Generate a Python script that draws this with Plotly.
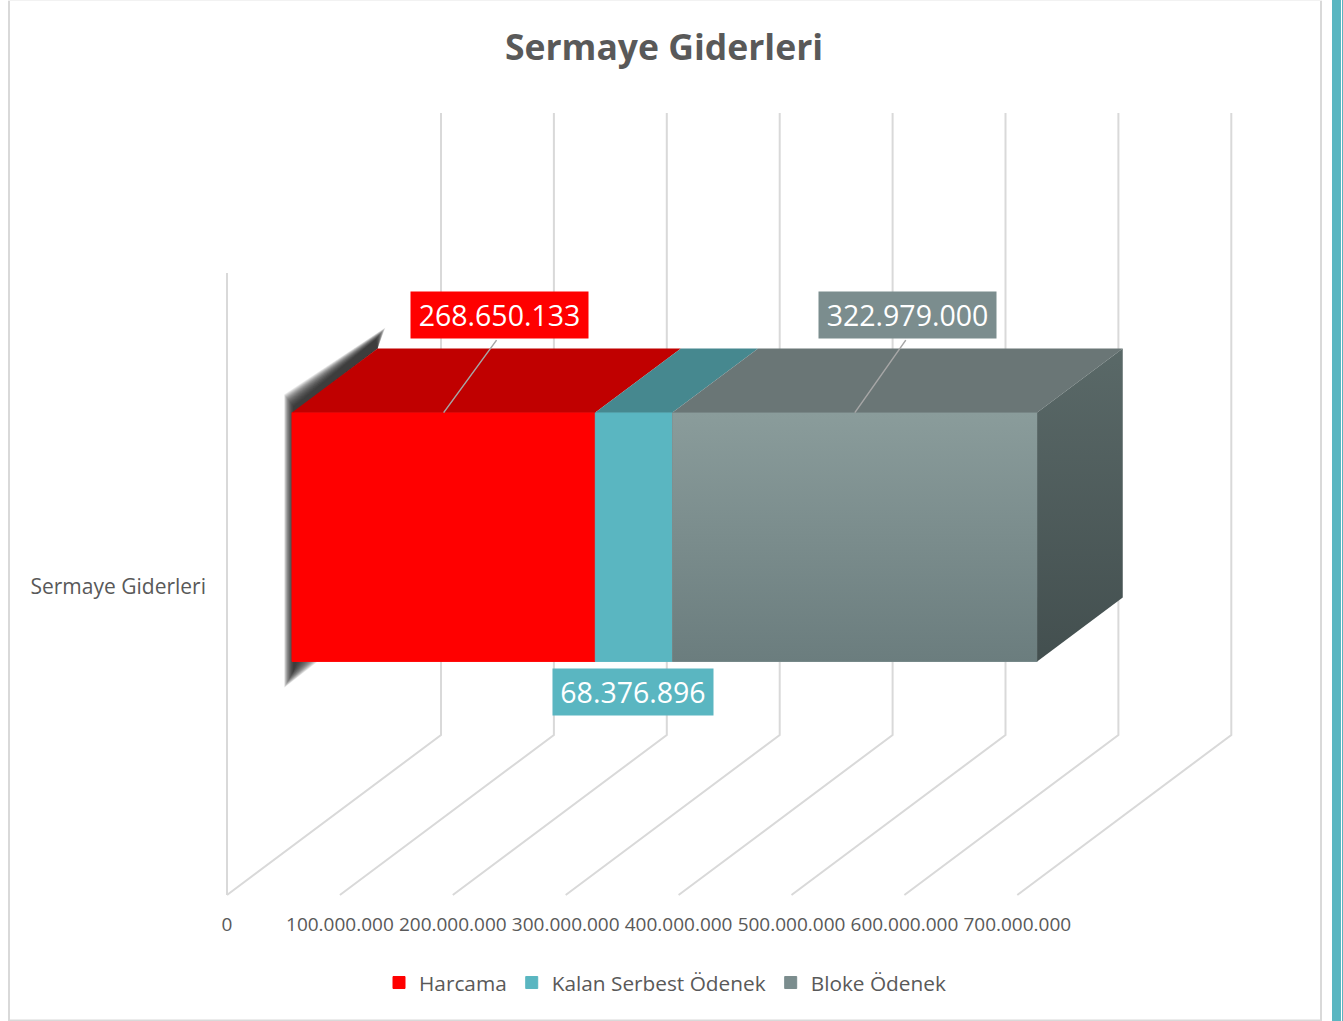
import plotly.graph_objects as go

title = 'Sermaye Giderleri'
category = 'Sermaye Giderleri'
series_names = ['Harcama', 'Kalan Serbest Ödenek', 'Bloke Ödenek']
series_values = [268650133, 68376896, 322979000]
value_labels = ['268.650.133', '68.376.896', '322.979.000']
tick_values = [0, 100000000, 200000000, 300000000, 400000000, 500000000, 600000000, 700000000]
tick_labels = ['0', '100.000.000', '200.000.000', '300.000.000', '400.000.000', '500.000.000', '600.000.000', '700.000.000']

front_colors = ['#ff0000', '#5ab6c1', '#7b8d8e']
top_colors = ['#c00000', '#46888f', '#6a7676']

W = 1343
H = 1021
FONT = 'Open Sans'
TEXT = '#595959'
GRID = '#d9d9d9'

# oblique projection of the excel 3d chart: px per value, px per unit of height, px of full depth
PX_X = 1.129e-6
PX_Y = 622.0
ORIGIN_X = 227.0
ORIGIN_Y = 895.0
DEPTH_PX_X = 214.0
DEPTH_PX_Y = 160.0
BAR_NEAR = 0.3
BAR_FAR = 0.7
BAR_LOW = 0.3
BAR_HIGH = 0.7
# the block sits a hair right of and below the projected position
BAR_NUDGE_X = 0.8 / PX_X
BAR_NUDGE_Y = -1.0 / PX_Y


def px(v, t=0.0):
    return v + t * DEPTH_PX_X / PX_X


def py(z, t=0.0):
    return z + t * DEPTH_PX_Y / PX_Y


def bx(v, t):
    return px(v, t) + BAR_NUDGE_X


def by(z, t):
    return py(z, t) + BAR_NUDGE_Y


def quad(v0, v1, t0, t1, z0, z1):
    # closed outline, either a top face (z0==z1) or a side face (v0==v1)
    if z0 == z1:
        pts = [(v0, t0, z0), (v1, t0, z0), (v1, t1, z0), (v0, t1, z0), (v0, t0, z0)]
    else:
        pts = [(v0, t0, z0), (v0, t1, z0), (v0, t1, z1), (v0, t0, z1), (v0, t0, z0)]
    return [bx(p[0], p[1]) for p in pts], [by(p[2], p[1]) for p in pts]


starts = [0, series_values[0], series_values[0] + series_values[1]]
ends = [s + v for s, v in zip(starts, series_values)]
front_low = by(BAR_LOW, BAR_NEAR)
front_high = by(BAR_HIGH, BAR_NEAR)
front_mid = (front_low + front_high) / 2

fig = go.Figure()

# front faces
for i in range(3):
    fig.add_trace(go.Bar(
        x=[series_values[i]], y=[front_mid], base=[bx(starts[i], BAR_NEAR)],
        width=[front_high - front_low], orientation='h', name=series_names[i],
        marker=dict(color=front_colors[i], line=dict(width=1, color=front_colors[i])),
        hoverinfo='skip',
    ))

# gradient on the grey front face
xs = [bx(starts[2], BAR_NEAR), bx(ends[2], BAR_NEAR), bx(ends[2], BAR_NEAR), bx(starts[2], BAR_NEAR), bx(starts[2], BAR_NEAR)]
ys = [front_low, front_low, front_high, front_high, front_low]
fig.add_trace(go.Scatter(
    x=xs, y=ys, mode='lines', line=dict(width=0), fill='toself', showlegend=False, hoverinfo='skip',
    fillgradient=dict(type='vertical', colorscale=[[0, '#6b7d7e'], [1, '#8a9c9b']]),
))

# top faces
for i in range(3):
    xs, ys = quad(starts[i], ends[i], BAR_NEAR, BAR_FAR, BAR_HIGH, BAR_HIGH)
    fig.add_trace(go.Scatter(
        x=xs, y=ys, mode='lines', line=dict(width=0), fill='toself', fillcolor=top_colors[i],
        showlegend=False, hoverinfo='skip',
    ))

# right side face
xs, ys = quad(ends[2], ends[2], BAR_NEAR, BAR_FAR, BAR_LOW, BAR_HIGH)
fig.add_trace(go.Scatter(
    x=xs, y=ys, mode='lines', line=dict(width=0), fill='toself', showlegend=False, hoverinfo='skip',
    fillgradient=dict(type='vertical', colorscale=[[0, '#434f4f'], [1, '#5a6968']]),
))

shapes = []

# walls and floor lines
for v in tick_values:
    path = 'M %f %f L %f %f L %f %f' % (px(v), py(0), px(v, 1), py(0, 1), px(v, 1), py(1, 1))
    shapes.append(dict(type='path', path=path, xref='x', yref='y', layer='below',
                       line=dict(color=GRID, width=2)))
shapes.append(dict(type='line', xref='x', yref='y', layer='below', x0=px(0), x1=px(0), y0=py(0), y1=py(1),
                   line=dict(color=GRID, width=2)))

# blurred shadow on the left of the red block, stacked translucent outlines
ux = 1 / PX_X
uy = 1 / PX_Y
p_back = (bx(0, BAR_FAR), by(BAR_HIGH, BAR_FAR))
p_top = (bx(0, BAR_NEAR), front_high)
p_low = (bx(0, BAR_NEAR), front_low)
for k in range(12, -13, -1):
    s = k / 2
    a = (p_back[0] + (3 + s * 0.8) * ux, p_back[1] + (15 + s) * uy)
    b = (p_top[0] - (3 + s * 0.8) * ux, p_top[1] + (12 + s) * uy)
    c = (p_low[0] - (3 + s * 0.8) * ux, p_low[1] - (18 + s * 1.4) * uy)
    d = (p_low[0] + (15 + s * 1.8) * ux, p_low[1])
    path = 'M %f %f L %f %f L %f %f L %f %f L %f %f L %f %f L %f %f Z' % (
        a[0], a[1], b[0], b[1], c[0], c[1], d[0], d[1], p_low[0] + 2 * ux, p_low[1], p_top[0] + 2 * ux, p_top[1],
        p_back[0], p_back[1])
    shapes.append(dict(type='path', path=path, xref='x', yref='y', layer='below',
                       fillcolor='rgba(40,40,40,0.08)', line=dict(width=0)))

# page frame and the teal strip at the right edge
shapes.append(dict(type='rect', xref='paper', yref='paper', layer='below', x0=8 / W, x1=10 / W, y0=0, y1=1,
                   fillcolor=GRID, line=dict(width=0)))
shapes.append(dict(type='rect', xref='paper', yref='paper', layer='below', x0=1320 / W, x1=1322 / W, y0=0, y1=1,
                   fillcolor=GRID, line=dict(width=0)))
shapes.append(dict(type='rect', xref='paper', yref='paper', layer='below', x0=8 / W, x1=1322 / W, y0=0, y1=1.5 / H,
                   fillcolor=GRID, line=dict(width=0)))
shapes.append(dict(type='rect', xref='paper', yref='paper', layer='below', x0=8 / W, x1=1322 / W, y0=1 - 1 / H, y1=1,
                   fillcolor='#f2f2f2', line=dict(width=0)))
shapes.append(dict(type='rect', xref='paper', yref='paper', layer='below', x0=1332 / W, x1=1341 / W, y0=0, y1=1,
                   fillcolor=front_colors[1], line=dict(width=0)))
shapes.append(dict(type='rect', xref='paper', yref='paper', layer='below', x0=1342 / W, x1=1, y0=0, y1=1,
                   fillcolor=front_colors[1], line=dict(width=0)))

# data labels, leader line first so the box sits on top of it
annotations = []
leader_dx = {0: 54, 2: 52}
label_dx = {0: 56, 2: 53}
for i in [0, 2]:
    mid = bx(starts[i] + series_values[i] / 2, BAR_NEAR)
    annotations.append(dict(
        x=mid, y=front_high, xref='x', yref='y', text='',
        showarrow=True, arrowhead=0, arrowwidth=1.5, arrowcolor='#a6a6a6', ax=leader_dx[i], ay=-74,
    ))
    annotations.append(dict(
        x=mid, y=front_high, xref='x', yref='y',
        text=value_labels[i], font=dict(family=FONT, size=28.5, color='white'),
        bgcolor=front_colors[i], width=177, height=46, borderpad=0,
        showarrow=False, xanchor='center', yanchor='middle', xshift=label_dx[i], yshift=98,
    ))
annotations.append(dict(
    x=bx(starts[1] + series_values[1] / 2, BAR_NEAR), y=front_low, xref='x', yref='y',
    text=value_labels[1], font=dict(family=FONT, size=28.5, color='white'),
    bgcolor=front_colors[1], width=160, height=46, borderpad=0,
    showarrow=False, yanchor='top', yshift=-7, xshift=-1,
))

LEFT_PX = 207
BOTTOM_PX = 911

fig.update_layout(
    width=W, height=H,
    margin=dict(l=0, r=0, t=0, b=0),
    paper_bgcolor='white', plot_bgcolor='rgba(0,0,0,0)',
    barmode='overlay',
    font=dict(family=FONT, color=TEXT),
    title=dict(text='<b>' + title + '</b>', x=664 / W, xanchor='center', y=1 - 48 / H, yanchor='middle',
               font=dict(family=FONT, size=35.5, color=TEXT)),
    xaxis=dict(domain=[LEFT_PX / W, 1], range=[(LEFT_PX - ORIGIN_X) / PX_X, (W - ORIGIN_X) / PX_X],
               tickmode='array', tickvals=tick_values, ticktext=tick_labels, showgrid=False, zeroline=False,
               showline=False, ticks='', tickfont=dict(family=FONT, size=19, color=TEXT)),
    yaxis=dict(domain=[1 - BOTTOM_PX / H, 1], range=[(ORIGIN_Y - BOTTOM_PX) / PX_Y, ORIGIN_Y / PX_Y],
               tickmode='array', tickvals=[0.495], ticktext=[category], showgrid=False, zeroline=False,
               showline=False, ticks='', tickfont=dict(family=FONT, size=21, color=TEXT)),
    legend=dict(orientation='h', x=665 / W, xanchor='center', y=1 - 983 / H, yanchor='middle',
                font=dict(family=FONT, size=20.8, color=TEXT), bgcolor='rgba(0,0,0,0)', traceorder='normal'),
    shapes=shapes,
    annotations=annotations,
)

fig.write_html("out.html", config={'displayModeBar': False}, post_script="document.body.style.margin='0';")
